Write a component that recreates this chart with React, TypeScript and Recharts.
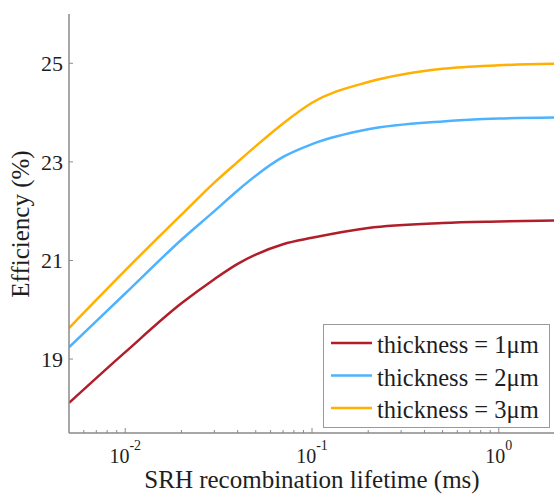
import React from "react";
import { LineChart, Line, XAxis, YAxis, Legend } from "recharts";

// SRH recombination lifetime (ms)
const lifetimes = [0.005, 0.01, 0.02, 0.03, 0.04, 0.05, 0.07, 0.1, 0.2, 0.5, 1, 2];
// Efficiency (%) for each thickness
const eff1um = [18.11, 19.14, 20.13, 20.62, 20.93, 21.12, 21.33, 21.46, 21.66, 21.76, 21.79, 21.81];
const eff2um = [19.24, 20.33, 21.42, 22.0, 22.42, 22.72, 23.1, 23.36, 23.66, 23.82, 23.88, 23.9];
const eff3um = [19.63, 20.8, 21.93, 22.58, 23.0, 23.32, 23.78, 24.2, 24.62, 24.89, 24.96, 24.99];

const seriesNames = ["thickness = 1\u03bcm", "thickness = 2\u03bcm", "thickness = 3\u03bcm"];
const seriesColors = ["#B01E2A", "#4DB3FF", "#FFB000"];

const xMajorTicks = [0.01, 0.1, 1];
const xMajorLabels = ["-2", "-1", "0"];
const xAllTicks = [
  0.006, 0.007, 0.008, 0.009, 0.01,
  0.02, 0.03, 0.04, 0.05, 0.06, 0.07, 0.08, 0.09, 0.1,
  0.2, 0.3, 0.4, 0.5, 0.6, 0.7, 0.8, 0.9, 1, 2,
];
const yTicks = [19, 21, 23, 25];
const xDomain = [0.005, 2];
const yDomain = [17.5, 26];

const data = lifetimes.map((t, i) => ({
  t,
  s1: eff1um[i],
  s2: eff2um[i],
  s3: eff3um[i],
}));

const FONT = "'Liberation Serif', 'Times New Roman', serif";
const AXIS = "#8a8a8a";
const TEXT = "#1e1e1e";

const BottomTick = (props: any) => {
  const { x, y, payload } = props;
  const idx = xMajorTicks.indexOf(payload.value);
  const major = idx >= 0;
  return (
    <g>
      <line x1={x} x2={x} y1={y} y2={y - (major ? 5 : 3)} stroke={AXIS} strokeWidth={1} />
      {major && (
        <text x={x} y={y + 30} textAnchor="middle" fontFamily={FONT} fill={TEXT}>
          <tspan fontSize={20}>10</tspan>
          <tspan fontSize={14} dy={-13}>{xMajorLabels[idx]}</tspan>
        </text>
      )}
    </g>
  );
};

const TopTick = (props: any) => {
  const { x, y, payload } = props;
  const major = xMajorTicks.indexOf(payload.value) >= 0;
  return <line x1={x} x2={x} y1={y} y2={y + (major ? 4 : 2)} stroke={AXIS} strokeWidth={1} />;
};

const LeftTick = (props: any) => {
  const { x, y, payload } = props;
  return (
    <g>
      <line x1={x} x2={x + 4} y1={y} y2={y} stroke={AXIS} strokeWidth={1} />
      <text x={x - 6} y={y + 8} textAnchor="end" fontFamily={FONT} fontSize={22} fill={TEXT}>
        {payload.value}
      </text>
    </g>
  );
};

const RightTick = (props: any) => {
  const { x, y } = props;
  return <line x1={x} x2={x - 4} y1={y} y2={y} stroke={AXIS} strokeWidth={1} />;
};

const XLabel = (props: any) => {
  const vb = props.viewBox || { x: 69, y: 433, width: 486 };
  return (
    <text x={vb.x + vb.width / 2} y={488} textAnchor="middle" fontFamily={FONT} fontSize={25} fill={TEXT}>
      SRH recombination lifetime (ms)
    </text>
  );
};

const YLabel = () => (
  <text
    x={29}
    y={224}
    transform="rotate(-90 29 224)"
    textAnchor="middle"
    fontFamily={FONT}
    fontSize={25}
    fill={TEXT}
  >
    Efficiency (%)
  </text>
);

const LegendBox = (props: any) => {
  const payload = (props.payload || []).filter((p: any) => p.type !== "none");
  const items = payload.length
    ? payload.map((p: any) => ({ name: p.value, color: p.color }))
    : seriesNames.map((n, i) => ({ name: n, color: seriesColors[i] }));
  return (
    <div
      style={{
        width: 227,
        height: 104,
        border: "1px solid #9a9a9a",
        background: "#fff",
        boxSizing: "border-box",
      }}
    >
      <svg width={225} height={102} style={{ display: "block" }}>
        {items.map((it: any, i: number) => {
          const cy = 18 + i * 32.5;
          return (
            <g key={i}>
              <line x1={7} x2={48} y1={cy} y2={cy} stroke={it.color} strokeWidth={2.5} />
              <text x={53} y={cy + 10} fontFamily={FONT} fontSize={24.5} fill={TEXT}>
                {it.name}
              </text>
            </g>
          );
        })}
      </svg>
    </div>
  );
};

export default function App() {
  return (
    <div
      style={{
        position: "absolute",
        left: 0,
        top: 0,
        width: 554,
        height: 494,
        overflow: "hidden",
        background: "#fff",
      }}
    >
      <LineChart
        width={560}
        height={494}
        data={data}
        margin={{ top: 14, right: 5, bottom: 0, left: 0 }}
      >
        <XAxis
          xAxisId="bottom"
          dataKey="t"
          type="number"
          scale="log"
          domain={xDomain}
          allowDataOverflow
          ticks={xAllTicks}
          interval={0}
          tick={<BottomTick />}
          tickLine={false}
          tickSize={0}
          tickMargin={0}
          axisLine={{ stroke: AXIS, strokeWidth: 1.5 }}
          height={61}
          label={<XLabel />}
        />
        <XAxis
          xAxisId="top"
          orientation="top"
          dataKey="t"
          type="number"
          scale="log"
          domain={xDomain}
          allowDataOverflow
          ticks={xAllTicks}
          interval={0}
          tick={<TopTick />}
          tickLine={false}
          tickSize={0}
          tickMargin={0}
          axisLine={{ stroke: AXIS, strokeWidth: 1.5 }}
          height={0}
        />
        <YAxis
          yAxisId="left"
          type="number"
          domain={yDomain}
          allowDataOverflow
          ticks={yTicks}
          interval={0}
          tick={<LeftTick />}
          tickLine={false}
          tickSize={0}
          tickMargin={0}
          axisLine={{ stroke: AXIS, strokeWidth: 1.5 }}
          width={69}
          label={<YLabel />}
        />
        <YAxis
          yAxisId="right"
          orientation="right"
          type="number"
          domain={yDomain}
          allowDataOverflow
          ticks={yTicks}
          interval={0}
          tick={<RightTick />}
          tickLine={false}
          tickSize={0}
          tickMargin={0}
          axisLine={{ stroke: AXIS, strokeWidth: 1.5 }}
          width={0}
        />
        <Legend
          layout="vertical"
          verticalAlign="middle"
          align="center"
          content={<LegendBox />}
          wrapperStyle={{ position: "absolute", left: 323, top: 324, width: 227, height: 104 }}
        />
        {["s1", "s2", "s3"].map((k, i) => (
          <Line
            key={k}
            xAxisId="bottom"
            yAxisId="left"
            type="monotone"
            dataKey={k}
            name={seriesNames[i]}
            stroke={seriesColors[i]}
            strokeWidth={2.5}
            dot={false}
            activeDot={false}
            isAnimationActive={false}
          />
        ))}
      </LineChart>
    </div>
  );
}
